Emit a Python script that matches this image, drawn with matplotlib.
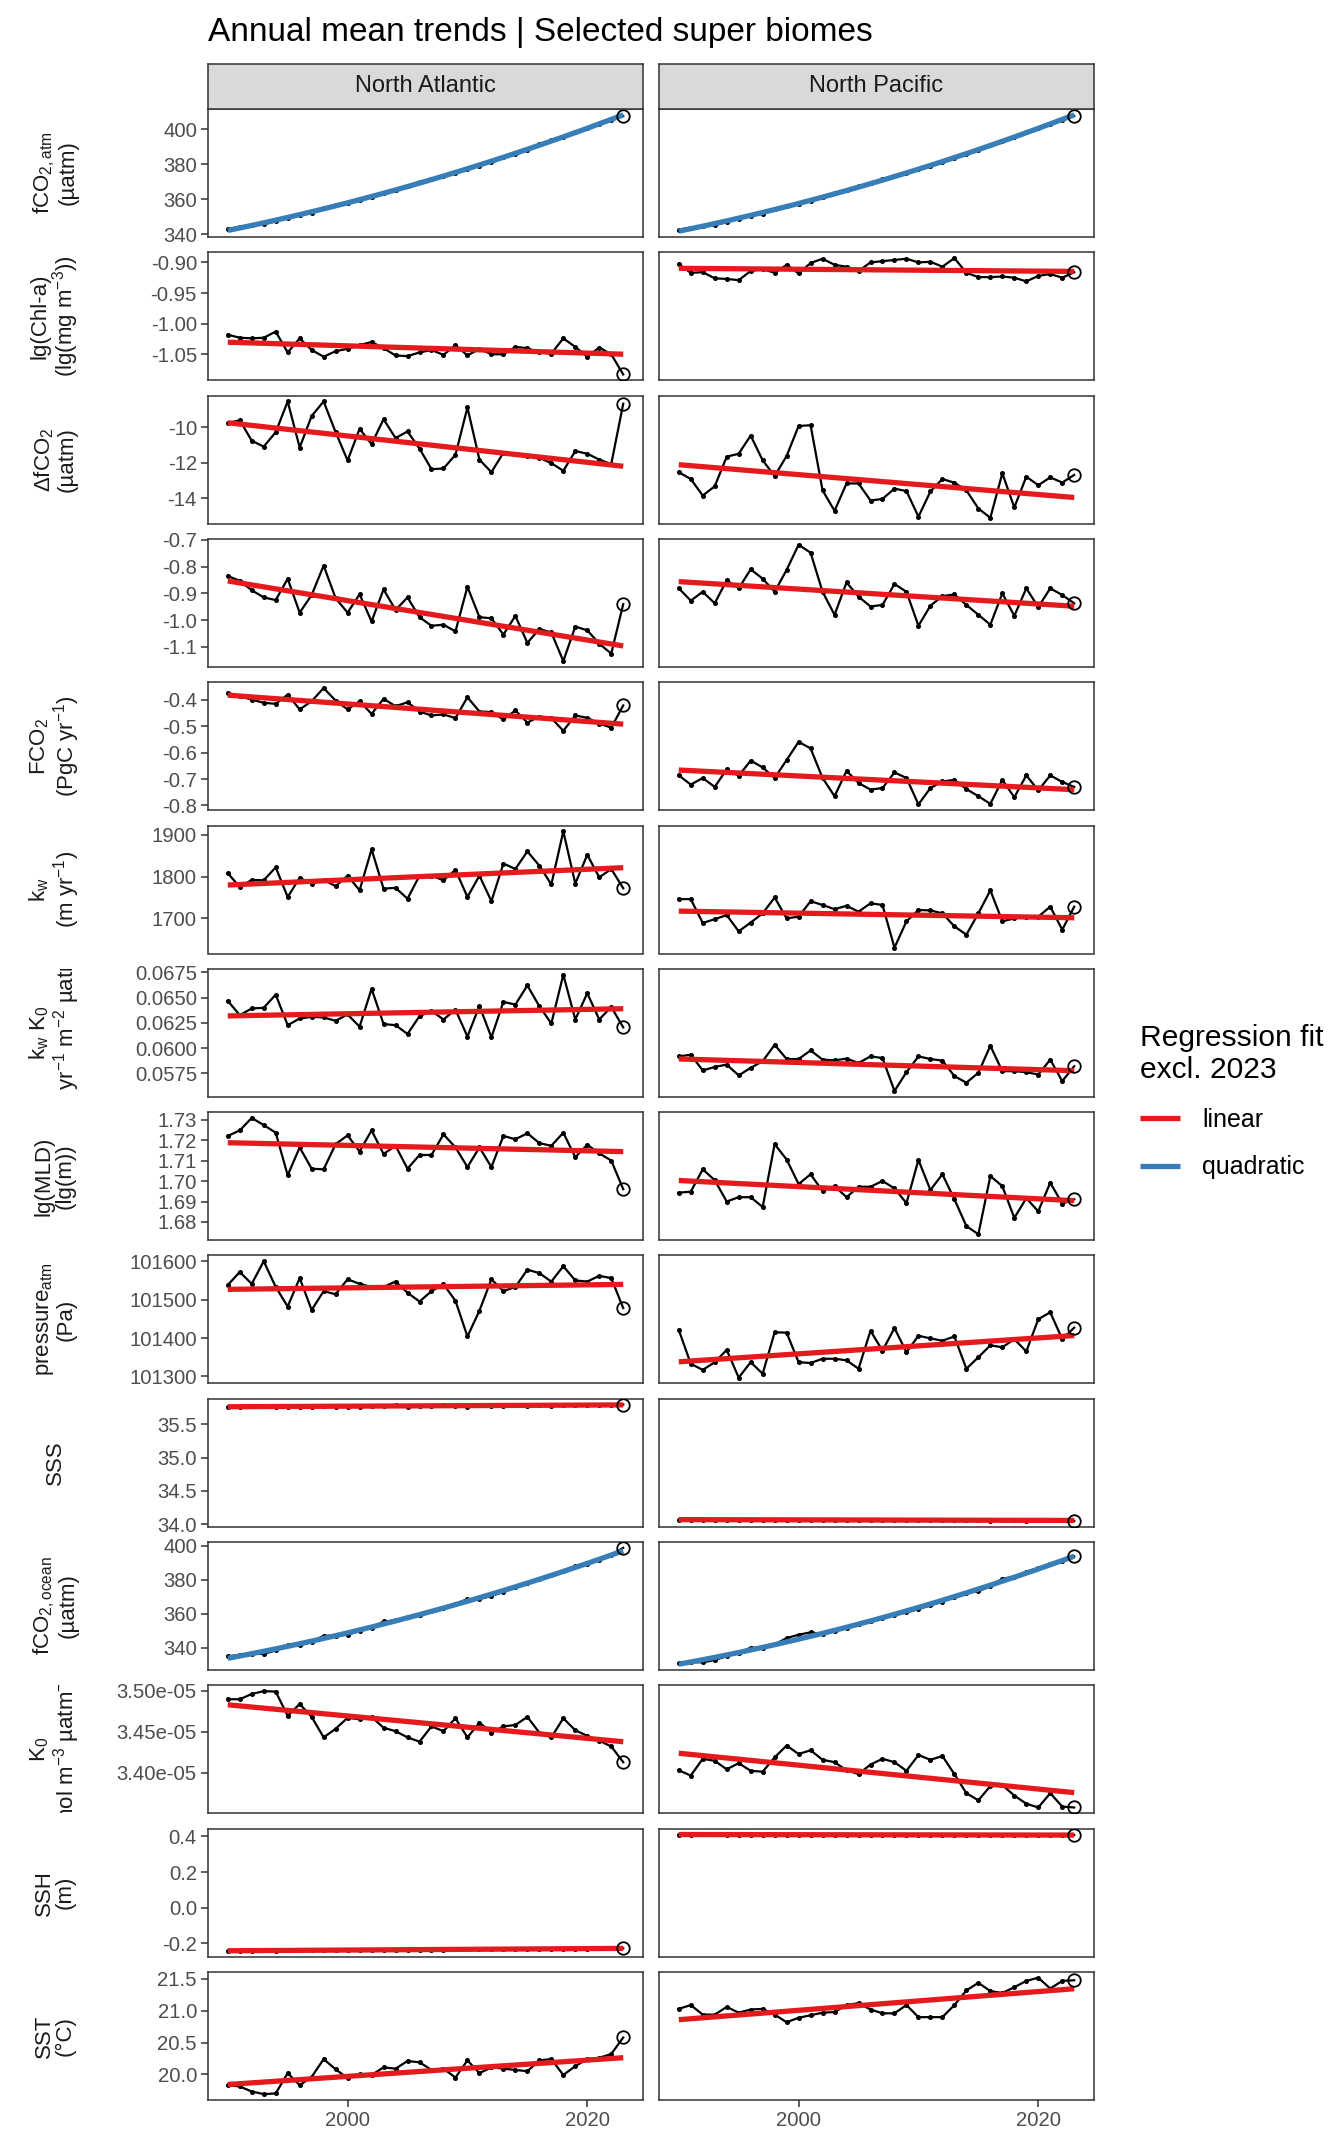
import numpy as np
import matplotlib
matplotlib.use("Agg")
import matplotlib.pyplot as plt
from matplotlib.lines import Line2D
from matplotlib.transforms import Bbox, TransformedBbox

plt.rcParams['font.family'] = ['Liberation Sans', 'DejaVu Sans']
plt.rcParams['mathtext.fontset'] = 'custom'
plt.rcParams['mathtext.rm'] = 'Liberation Sans'
plt.rcParams['mathtext.it'] = 'Liberation Sans'
plt.rcParams['mathtext.bf'] = 'Liberation Sans:bold'
plt.rcParams['axes.unicode_minus'] = False

# ---- data -------------------------------------------------------------
years = list(range(1990, 2024))
biomes = ["North Atlantic", "North Pacific"]

fco2atm_na = [343.1, 344.3, 345.1, 345.8, 347.5, 349.4, 351.1, 352.2, 355.1, 356.7,
              357.9, 359.4, 361.5, 363.9, 365.6, 367.8, 369.9, 371.7, 373.5, 375.2,
              377.6, 379.3, 381.4, 384.0, 386.0, 388.2, 391.5, 393.7, 395.6, 398.5,
              401.0, 403.1, 405.2, 407.6]
fco2atm_np = [342.7, 343.9, 344.6, 345.3, 347.0, 349.0, 350.8, 351.8, 354.8, 356.3,
              357.5, 359.1, 361.2, 363.6, 365.2, 367.5, 369.6, 371.4, 373.2, 374.9,
              377.4, 379.0, 381.1, 383.8, 385.8, 388.0, 391.3, 393.6, 395.5, 398.4,
              400.9, 403.1, 405.3, 407.7]

chl_na = [-1.018, -1.023, -1.024, -1.023, -1.013, -1.047, -1.024, -1.043, -1.054, -1.045,
          -1.041, -1.035, -1.030, -1.040, -1.052, -1.053, -1.047, -1.043, -1.051, -1.035,
          -1.052, -1.041, -1.050, -1.050, -1.038, -1.040, -1.047, -1.049, -1.024, -1.038,
          -1.054, -1.039, -1.050, -1.083]
chl_np = [-0.903, -0.917, -0.916, -0.926, -0.927, -0.929, -0.914, -0.911, -0.917, -0.904,
          -0.918, -0.901, -0.894, -0.904, -0.907, -0.914, -0.900, -0.898, -0.896, -0.894,
          -0.900, -0.899, -0.907, -0.893, -0.917, -0.924, -0.924, -0.923, -0.925, -0.931,
          -0.922, -0.919, -0.925, -0.916]

dfco2_na = [-9.77, -9.62, -10.77, -11.10, -10.29, -8.56, -11.15, -9.38, -8.56, -10.29,
            -11.88, -10.10, -10.96, -9.56, -10.62, -10.25, -11.21, -12.37, -12.33, -11.56,
            -8.90, -11.83, -12.54, -11.44, -11.54, -11.64, -11.73, -12.03, -12.46, -11.35,
            -11.50, -11.83, -12.08, -8.69]
dfco2_np = [-12.54, -12.92, -13.85, -13.33, -11.67, -11.50, -10.48, -11.87, -12.75, -11.63,
            -9.94, -9.90, -13.56, -14.71, -13.17, -13.17, -14.13, -14.04, -13.46, -13.60,
            -15.04, -13.62, -12.92, -13.13, -13.56, -14.58, -15.10, -12.60, -14.52, -12.79,
            -13.27, -12.83, -13.12, -12.69]

fluxd_na = [-0.835, -0.853, -0.888, -0.915, -0.925, -0.845, -0.972, -0.906, -0.796, -0.918,
            -0.972, -0.903, -1.005, -0.885, -0.962, -0.915, -0.989, -1.021, -1.017, -1.042,
            -0.875, -0.989, -0.993, -1.054, -0.984, -1.085, -1.033, -1.046, -1.153, -1.024,
            -1.038, -1.088, -1.125, -0.940]
fluxd_np = [-0.881, -0.927, -0.894, -0.937, -0.851, -0.881, -0.810, -0.845, -0.894, -0.812,
            -0.718, -0.748, -0.894, -0.980, -0.859, -0.912, -0.949, -0.943, -0.865, -0.894,
            -1.021, -0.946, -0.910, -0.904, -0.943, -0.980, -1.017, -0.900, -0.984, -0.881,
            -0.951, -0.881, -0.906, -0.937]

flux_na = [-0.374, -0.386, -0.399, -0.411, -0.415, -0.380, -0.436, -0.405, -0.355, -0.403,
           -0.436, -0.405, -0.453, -0.396, -0.424, -0.409, -0.444, -0.459, -0.455, -0.469,
           -0.390, -0.444, -0.446, -0.474, -0.440, -0.486, -0.463, -0.469, -0.517, -0.459,
           -0.468, -0.490, -0.505, -0.421]
flux_np = [-0.686, -0.721, -0.696, -0.730, -0.663, -0.688, -0.630, -0.656, -0.696, -0.628,
           -0.559, -0.584, -0.696, -0.765, -0.669, -0.715, -0.740, -0.734, -0.675, -0.696,
           -0.796, -0.734, -0.709, -0.703, -0.738, -0.765, -0.794, -0.703, -0.769, -0.686,
           -0.743, -0.686, -0.711, -0.730]

kw_na = [1808, 1775, 1792, 1791, 1822, 1751, 1797, 1783, 1792, 1777,
         1802, 1767, 1865, 1771, 1773, 1747, 1802, 1802, 1791, 1816,
         1751, 1802, 1741, 1831, 1818, 1860, 1826, 1781, 1908, 1783,
         1852, 1798, 1818, 1772]
kw_np = [1746, 1746, 1689, 1698, 1708, 1669, 1690, 1712, 1750, 1700,
         1704, 1741, 1732, 1722, 1730, 1716, 1736, 1732, 1630, 1693,
         1720, 1719, 1712, 1681, 1661, 1712, 1767, 1693, 1700, 1704,
         1704, 1728, 1673, 1728]

kwk0_na = [0.06467, 0.06327, 0.06392, 0.06399, 0.06529, 0.06227, 0.06293, 0.06309, 0.06303, 0.06270,
           0.06333, 0.06212, 0.06587, 0.06238, 0.06227, 0.06140, 0.06316, 0.06368, 0.06283, 0.06381,
           0.06114, 0.06417, 0.06107, 0.06457, 0.06431, 0.06620, 0.06414, 0.06244, 0.06727, 0.06283,
           0.06543, 0.06283, 0.06408, 0.06205]
kwk0_np = [0.05918, 0.05935, 0.05779, 0.05814, 0.05837, 0.05730, 0.05805, 0.05870, 0.06033, 0.05892,
           0.05892, 0.05977, 0.05886, 0.05879, 0.05896, 0.05853, 0.05918, 0.05902, 0.05576, 0.05762,
           0.05918, 0.05892, 0.05876, 0.05723, 0.05658, 0.05756, 0.06023, 0.05772, 0.05772, 0.05762,
           0.05739, 0.05886, 0.05674, 0.05821]

mld_na = [1.7220, 1.7247, 1.7308, 1.7273, 1.7236, 1.7028, 1.7164, 1.7060, 1.7057, 1.7180,
          1.7223, 1.7144, 1.7247, 1.7132, 1.7172, 1.7060, 1.7127, 1.7127, 1.7228, 1.7164,
          1.7068, 1.7164, 1.7068, 1.7220, 1.7204, 1.7233, 1.7185, 1.7172, 1.7236, 1.7116,
          1.7177, 1.7135, 1.7100, 1.6960]
mld_np = [1.6943, 1.6948, 1.7057, 1.7004, 1.6900, 1.6921, 1.6921, 1.6873, 1.7180, 1.7105,
          1.6985, 1.7033, 1.6951, 1.6975, 1.6921, 1.6972, 1.6972, 1.7000, 1.6964, 1.6892,
          1.7103, 1.6956, 1.7033, 1.6911, 1.6780, 1.6740, 1.7024, 1.6975, 1.6820, 1.6916,
          1.6852, 1.6992, 1.6889, 1.6911]

patm_na = [101538, 101572, 101541, 101600, 101533, 101482, 101556, 101473, 101522, 101514,
           101553, 101541, 101533, 101533, 101547, 101518, 101495, 101522, 101540, 101497,
           101404, 101471, 101553, 101522, 101533, 101578, 101569, 101547, 101587, 101550,
           101547, 101562, 101556, 101478]
patm_np = [101421, 101333, 101317, 101337, 101369, 101297, 101337, 101307, 101415, 101414,
           101337, 101335, 101346, 101346, 101342, 101320, 101419, 101367, 101426, 101363,
           101406, 101399, 101393, 101404, 101320, 101350, 101381, 101376, 101397, 101365,
           101449, 101467, 101397, 101427]

sss_na = [35.76, 35.77, 35.78, 35.78, 35.77, 35.77, 35.76, 35.77, 35.78, 35.77,
          35.77, 35.77, 35.78, 35.78, 35.79, 35.77, 35.78, 35.78, 35.79, 35.78,
          35.77, 35.79, 35.78, 35.78, 35.79, 35.78, 35.79, 35.78, 35.79, 35.79,
          35.80, 35.80, 35.80, 35.80]
sss_np = [34.07, 34.06, 34.07, 34.07, 34.06, 34.07, 34.07, 34.06, 34.07, 34.07,
          34.07, 34.07, 34.06, 34.07, 34.06, 34.06, 34.06, 34.07, 34.06, 34.06,
          34.07, 34.06, 34.06, 34.06, 34.06, 34.06, 34.05, 34.06, 34.06, 34.05,
          34.06, 34.06, 34.06, 34.05]

fco2oc_na = [335.0, 335.8, 336.4, 336.4, 338.4, 341.5, 341.5, 343.4, 347.1, 347.1,
             347.7, 349.9, 351.9, 355.5, 356.1, 358.3, 359.4, 361.7, 363.6, 365.9,
             368.7, 368.7, 370.6, 372.9, 375.6, 377.9, 380.7, 382.6, 385.4, 388.2,
             389.6, 391.6, 394.7, 398.9]
fco2oc_np = [330.8, 331.6, 331.4, 332.8, 335.0, 337.0, 340.1, 339.8, 342.0, 345.7,
             347.7, 349.1, 348.2, 349.6, 351.9, 353.8, 355.5, 357.5, 359.4, 360.8,
             362.8, 365.0, 367.2, 370.1, 372.3, 373.4, 376.2, 380.7, 381.8, 384.9,
             386.8, 389.6, 391.0, 393.8]

k0_na = [3.4895e-05, 3.4895e-05, 3.4959e-05, 3.4994e-05, 3.4988e-05, 3.4692e-05, 3.4837e-05,
         3.4680e-05, 3.4430e-05, 3.4535e-05, 3.4669e-05, 3.4651e-05, 3.4680e-05, 3.4547e-05,
         3.4506e-05, 3.4430e-05, 3.4378e-05, 3.4564e-05, 3.4506e-05, 3.4663e-05, 3.4430e-05,
         3.4610e-05, 3.4488e-05, 3.4564e-05, 3.4581e-05, 3.4680e-05, 3.4488e-05, 3.4430e-05,
         3.4663e-05, 3.4517e-05, 3.4448e-05, 3.4390e-05, 3.4320e-05, 3.4128e-05]
k0_np = [3.4029e-05, 3.3965e-05, 3.4169e-05, 3.4145e-05, 3.4041e-05, 3.4116e-05, 3.4023e-05,
         3.4012e-05, 3.4186e-05, 3.4331e-05, 3.4227e-05, 3.4273e-05, 3.4157e-05, 3.4128e-05,
         3.4029e-05, 3.3983e-05, 3.4099e-05, 3.4169e-05, 3.4128e-05, 3.4023e-05, 3.4215e-05,
         3.4157e-05, 3.4203e-05, 3.3983e-05, 3.3750e-05, 3.3663e-05, 3.3837e-05, 3.3849e-05,
         3.3721e-05, 3.3622e-05, 3.3576e-05, 3.3750e-05, 3.3587e-05, 3.3576e-05]

ssh_na = [-0.241, -0.240, -0.240, -0.239, -0.240, -0.239, -0.239, -0.238, -0.236, -0.238,
          -0.237, -0.237, -0.236, -0.235, -0.236, -0.235, -0.235, -0.234, -0.234, -0.233,
          -0.233, -0.232, -0.232, -0.231, -0.232, -0.231, -0.230, -0.229, -0.230, -0.229,
          -0.229, -0.228, -0.228, -0.227]
ssh_np = [0.410, 0.409, 0.411, 0.411, 0.410, 0.409, 0.410, 0.409, 0.410, 0.410,
          0.409, 0.410, 0.410, 0.409, 0.409, 0.410, 0.409, 0.409, 0.408, 0.409,
          0.409, 0.408, 0.409, 0.408, 0.408, 0.408, 0.407, 0.408, 0.408, 0.407,
          0.408, 0.408, 0.407, 0.408]

sst_na = [19.83, 19.81, 19.73, 19.69, 19.70, 20.02, 19.83, 19.96, 20.24, 20.08,
          19.94, 20.00, 19.99, 20.11, 20.09, 20.21, 20.19, 20.07, 20.09, 19.95,
          20.22, 20.02, 20.11, 20.09, 20.07, 20.05, 20.22, 20.24, 19.99, 20.13,
          20.24, 20.26, 20.32, 20.58]
sst_np = [21.03, 21.09, 20.94, 20.94, 21.06, 20.97, 21.02, 21.03, 20.94, 20.82,
          20.89, 20.93, 20.97, 20.98, 21.09, 21.12, 21.02, 20.96, 20.96, 21.09,
          20.90, 20.90, 20.90, 21.09, 21.32, 21.44, 21.31, 21.28, 21.37, 21.47,
          21.52, 21.35, 21.47, 21.48]

row_labels = [
    "fCO$_{2,atm}$\n(µatm)",
    "lg(Chl-a)\n(lg(mg m$^{-3}$))",
    "ΔfCO$_2$\n(µatm)",
    "",
    "FCO$_2$\n(PgC yr$^{-1}$)",
    "k$_w$\n(m yr$^{-1}$)",
    "k$_w$ K$_0$\n(mol yr$^{-1}$ m$^{-2}$ µatm$^{-1}$)",
    "lg(MLD)\n(lg(m))",
    "pressure$_{atm}$\n(Pa)",
    "SSS",
    "fCO$_{2,ocean}$\n(µatm)",
    "K$_0$\n(mol m$^{-3}$ µatm$^{-1}$)",
    "SSH\n(m)",
    "SST\n(°C)",
]
row_ticks = [
    [340, 360, 380, 400],
    [-1.05, -1.00, -0.95, -0.90],
    [-14, -12, -10],
    [-1.1, -1.0, -0.9, -0.8, -0.7],
    [-0.8, -0.7, -0.6, -0.5, -0.4],
    [1700, 1800, 1900],
    [0.0575, 0.0600, 0.0625, 0.0650, 0.0675],
    [1.68, 1.69, 1.70, 1.71, 1.72, 1.73],
    [101300, 101400, 101500, 101600],
    [34.0, 34.5, 35.0, 35.5],
    [340, 360, 380, 400],
    [3.40e-05, 3.45e-05, 3.50e-05],
    [-0.2, 0.0, 0.2, 0.4],
    [20.0, 20.5, 21.0, 21.5],
]
row_fmt = ["{:.0f}", "{:.2f}", "{:.0f}", "{:.1f}", "{:.1f}", "{:.0f}", "{:.4f}",
           "{:.2f}", "{:.0f}", "{:.1f}", "{:.0f}", "{:.2e}", "{:.1f}", "{:.1f}"]
row_degree = [2, 1, 1, 1, 1, 1, 1, 1, 1, 1, 2, 1, 1, 1]

series = [
    (fco2atm_na, fco2atm_np), (chl_na, chl_np), (dfco2_na, dfco2_np),
    (fluxd_na, fluxd_np), (flux_na, flux_np), (kw_na, kw_np),
    (kwk0_na, kwk0_np), (mld_na, mld_np), (patm_na, patm_np),
    (sss_na, sss_np), (fco2oc_na, fco2oc_np), (k0_na, k0_np),
    (ssh_na, ssh_np), (sst_na, sst_np),
]

fit_colors = {1: "#E41A1C", 2: "#377EB8"}

# ---- layout (pixels) --------------------------------------------------
W, H = 1344, 2150
panel_x = [208, 659]
panel_w = 435
top0 = 109
ph = 128
gap = 15.3
strip_top = 64

fig = plt.figure(figsize=(W / 100, H / 100), dpi=100)
yrs = np.array(years, dtype=float)
small_pts = list(range(len(years) - 1))   # 2023 gets the open circle instead

for i, (pair, label, ticks, fmt, deg) in enumerate(
        zip(series, row_labels, row_ticks, row_fmt, row_degree)):
    top = top0 + i * (ph + gap)
    # fits excluding 2023
    fits = []
    for vals in pair:
        v = np.array(vals, dtype=float)
        coef = np.polyfit(yrs[:-1], v[:-1], deg)
        fits.append(np.polyval(coef, yrs))
    allv = np.concatenate([np.array(pair[0]), np.array(pair[1]), fits[0], fits[1]])
    lo, hi = allv.min(), allv.max()
    pad = 0.05 * (hi - lo)

    for j, vals in enumerate(pair):
        ax = fig.add_axes([panel_x[j] / W, 1 - (top + ph) / H, panel_w / W, ph / H])
        ax.plot(years, vals, color="black", lw=1.6, marker="o", ms=2.6,
                markevery=small_pts, zorder=2)
        ax.plot(years, fits[j], color=fit_colors[deg], lw=3.8,
                solid_capstyle="butt", zorder=3)
        ax.plot(years[-1], vals[-1], marker="o", ms=9, mfc="none", mec="black",
                mew=1.3, zorder=4)
        ax.set_xlim(1988.35, 2024.65)
        ax.set_ylim(lo - pad, hi + pad)
        for s in ax.spines.values():
            s.set_color("#333333")
            s.set_linewidth(1.1)
        ax.tick_params(direction="out", length=5, width=1.1, color="#333333",
                       labelcolor="#4D4D4D", labelsize=14.6, pad=3)
        if j == 0:
            ax.set_yticks(ticks)
            ax.set_yticklabels([fmt.format(t) for t in ticks])
        else:
            ax.set_yticks([])
        if i == len(series) - 1:
            ax.set_xticks([2000, 2020])
            ax.set_xticklabels(["2000", "2020"])
        else:
            ax.set_xticks([])

        if i == 0:
            sax = fig.add_axes([panel_x[j] / W, 1 - top / H, panel_w / W,
                                (top - strip_top) / H])
            sax.set_facecolor("#D9D9D9")
            sax.set_xticks([])
            sax.set_yticks([])
            for s in sax.spines.values():
                s.set_color("#333333")
                s.set_linewidth(1.1)
            sax.text(0.5, 0.5, biomes[j], ha="center", va="center",
                     fontsize=17, color="#1A1A1A", transform=sax.transAxes)

    # row label, clipped to the strip area like ggplot's outside strips
    if label:
        t = fig.text(55 / W, 1 - (top + ph / 2) / H, label, rotation=90,
                     ha="center", va="center", multialignment="center",
                     fontsize=16, color="#1A1A1A", linespacing=1.0)
        clip = TransformedBbox(Bbox([[0, 1 - (top + ph) / H], [130 / W, 1 - top / H]]),
                               fig.transFigure)
        t.set_clip_box(clip)
        t.set_clip_on(True)

fig.text(208 / W, 1 - 41 / H, "Annual mean trends | Selected super biomes",
         fontsize=24, ha="left", va="baseline", color="black")

handles = [Line2D([], [], color=fit_colors[1], lw=3.8, solid_capstyle="butt"),
           Line2D([], [], color=fit_colors[2], lw=3.8, solid_capstyle="butt")]
leg = fig.legend(handles, ["linear", "quadratic"], title="Regression fit\nexcl. 2023",
                 loc="upper left", bbox_to_anchor=(1117 / W, 1 - 1001 / H),
                 frameon=False, fontsize=18, title_fontsize=21.6,
                 handlelength=1.6, handletextpad=0.9, labelspacing=0.95,
                 alignment="left")

fig.savefig("out.png", dpi=100)
